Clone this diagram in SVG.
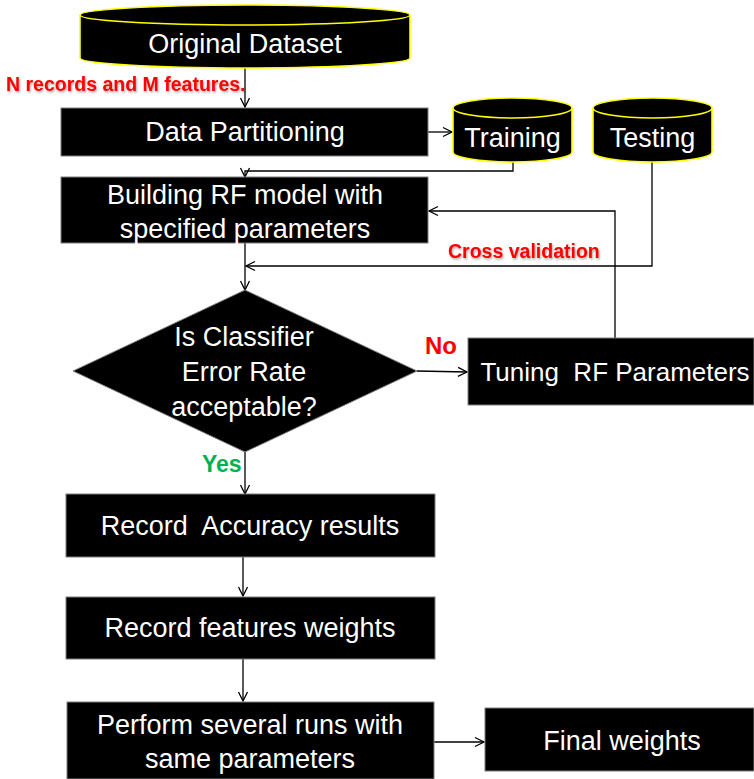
<svg xmlns="http://www.w3.org/2000/svg" width="754" height="779" viewBox="0 0 754 779">
  <style>
    .box { fill: #000; stroke: #7f7f7f; stroke-width: 1; }
    .db { fill: #000; stroke: #ffff00; stroke-width: 1.6; }
    .lbl { fill: #fff; font-family: "Liberation Sans", Arial, sans-serif; font-size: 27px; text-anchor: middle; }
    .lbl.small { font-size: 26px; }
    .note { font-family: "Liberation Sans", Arial, sans-serif; font-weight: bold; }
    .red { fill: #ff0000; }
    .green { fill: #00b050; }
    .conn { fill: none; stroke: #000; stroke-width: 1.3; }
  </style>
  <defs>
    <marker id="arrow" markerUnits="userSpaceOnUse" markerWidth="12" markerHeight="12" refX="10" refY="5" orient="auto" viewBox="0 0 12 10">
      <path d="M1,0.5 L10,5 L1,9.5" fill="none" stroke="#000" stroke-width="1.3"/>
    </marker>
    <filter id="shadow" x="-5%" y="-20%" width="110%" height="150%">
      <feDropShadow dx="1" dy="1.5" stdDeviation="0.8" flood-color="#000" flood-opacity="0.35"/>
    </filter>
  </defs>

  <!-- connectors -->
  <g id="connectors">
    <path class="conn" d="M245,68 L245,107" marker-end="url(#arrow)"/>
    <path class="conn" d="M428,132 L452,132" marker-end="url(#arrow)"/>
    <path class="conn" d="M513,162 L513,171 L245,171 L245,177" marker-end="url(#arrow)"/>
    <path class="conn" d="M652,162 L652,266 L246,266" marker-end="url(#arrow)"/>
    <path class="conn" d="M245,243 L245,290" marker-end="url(#arrow)"/>
    <path class="conn" d="M417,371 L467,372" marker-end="url(#arrow)"/>
    <path class="conn" d="M615,338 L615,211 L429,211" marker-end="url(#arrow)"/>
    <path class="conn" d="M245,452 L245,494" marker-end="url(#arrow)"/>
    <path class="conn" d="M243,557 L243,596" marker-end="url(#arrow)"/>
    <path class="conn" d="M243,659 L243,701" marker-end="url(#arrow)"/>
    <path class="conn" d="M434,742 L484,742" marker-end="url(#arrow)"/>
    <text class="note red" x="6" y="91" font-size="19.5" filter="url(#shadow)">N records and M features.</text>
    <text class="note red" x="448" y="258" font-size="19.5" filter="url(#shadow)">Cross validation</text>
    <text class="note red" x="425" y="354" font-size="24">No</text>
    <text class="note green" x="202" y="472" font-size="23">Yes</text>
  </g>

  <!-- data stores -->
  <g id="original-dataset">
    <path class="db" d="M80,15 L80,58 A165,10 0 0 0 410,58 L410,15"/>
    <ellipse class="db" cx="245" cy="15" rx="165" ry="10"/>
    <text class="lbl" x="245" y="53">Original Dataset</text>
  </g>
  <g id="training">
    <path class="db" d="M453,108 L453,152 A59.5,10 0 0 0 572,152 L572,108"/>
    <ellipse class="db" cx="512.5" cy="108" rx="59.5" ry="10"/>
    <text class="lbl" x="512.5" y="147">Training</text>
  </g>
  <g id="testing">
    <path class="db" d="M593,108 L593,152 A59.5,10 0 0 0 712,152 L712,108"/>
    <ellipse class="db" cx="652.5" cy="108" rx="59.5" ry="10"/>
    <text class="lbl" x="652.5" y="147">Testing</text>
  </g>

  <!-- process steps -->
  <g id="data-partitioning">
    <rect class="box" x="61" y="108" width="367" height="48"/>
    <text class="lbl" x="245" y="141">Data Partitioning</text>
  </g>
  <g id="build-model">
    <rect class="box" x="61" y="177" width="367" height="66"/>
    <text class="lbl" x="245" y="204">Building RF model with</text>
    <text class="lbl" x="245" y="238">specified parameters</text>
  </g>
  <g id="error-check">
    <polygon class="box" points="245,290 417,371 245,452 73,371"/>
    <text class="lbl" x="244" y="346">Is Classifier</text>
    <text class="lbl" x="244" y="381">Error Rate</text>
    <text class="lbl" x="244" y="416">acceptable?</text>
  </g>
  <g id="tuning">
    <rect class="box" x="468" y="338" width="286" height="67"/>
    <text class="lbl small" x="615" y="381" xml:space="preserve">Tuning  RF Parameters</text>
  </g>
  <g id="record-accuracy">
    <rect class="box" x="66" y="494" width="369" height="63"/>
    <text class="lbl" x="250" y="535" xml:space="preserve">Record  Accuracy results</text>
  </g>
  <g id="record-weights">
    <rect class="box" x="66" y="597" width="369" height="62"/>
    <text class="lbl" x="250" y="637">Record features weights</text>
  </g>
  <g id="several-runs">
    <rect class="box" x="67" y="702" width="367" height="77"/>
    <text class="lbl" x="250" y="734">Perform several runs with</text>
    <text class="lbl" x="250" y="768">same parameters</text>
  </g>
  <g id="final-weights">
    <rect class="box" x="485" y="708" width="269" height="63"/>
    <text class="lbl" x="622" y="750">Final weights</text>
  </g>
</svg>
